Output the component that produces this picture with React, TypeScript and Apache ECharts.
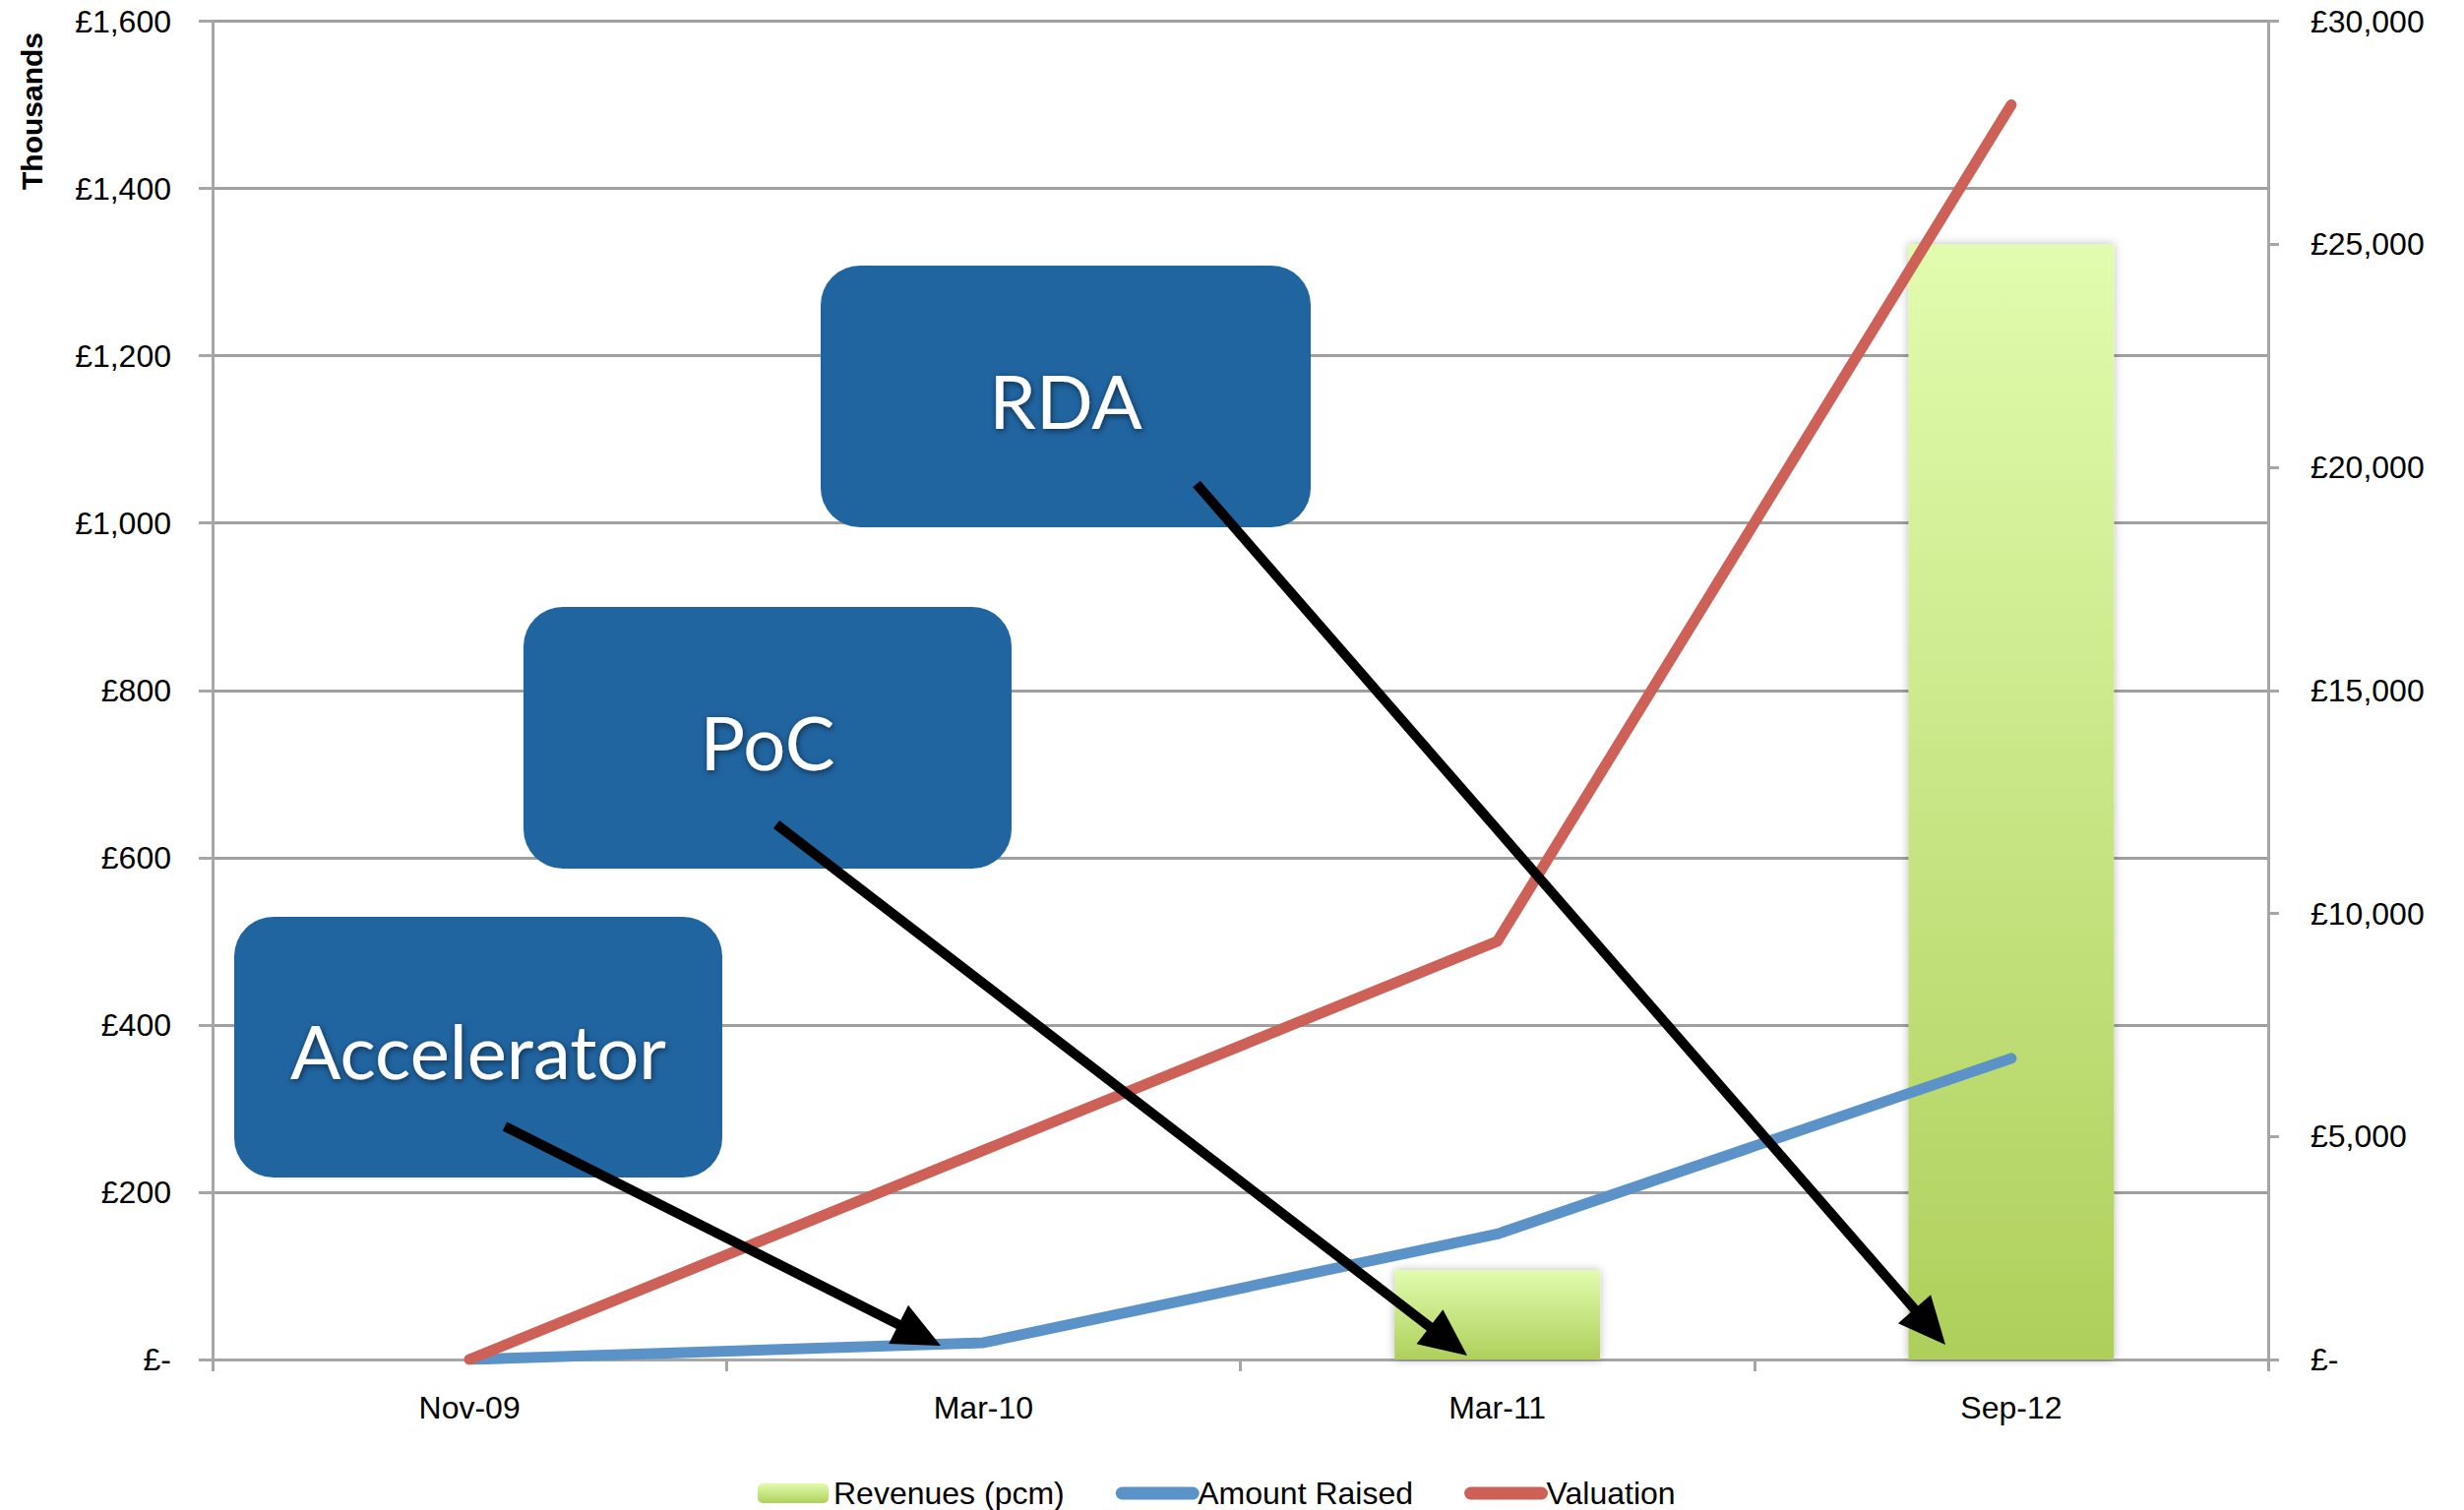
import React, { useEffect, useRef } from "react";
import * as echarts from "echarts";

// ---- data ----
const categories = ["Nov-09", "Mar-10", "Mar-11", "Sep-12"];
const revenuesPcm = [0, 0, 2000, 25000]; // right axis (£)
const amountRaised = [0, 20, 150, 360]; // left axis (£ thousands)
const valuation = [0, 250, 500, 1500]; // left axis (£ thousands)
const leftAxisRange = [0, 1600, 200];
const rightAxisRange = [0, 30000, 5000];
const seriesNames = ["Revenues (pcm)", "Amount Raised", "Valuation"];
const stageLabels = ["RDA", "PoC", "Accelerator"];

// ---- annotation layout (pixels) ----
const stageBoxes = [
  { x: 834, y: 270, w: 498, h: 266 },
  { x: 532, y: 617, w: 496, h: 266 },
  { x: 238, y: 932, w: 496, h: 265 },
];
const stageArrows = [
  { from: [1216, 492], to: [1977, 1367] },
  { from: [789, 838], to: [1491, 1378] },
  { from: [513, 1145], to: [956, 1368] },
];

const FONT = '"Liberation Sans", Arial, sans-serif';
const GRID_COLOR = "#a0a0a0";
const AXIS_COLOR = "#a6a6a6";
const BLUE = "#5b93c9";
const RED = "#cd6158";

function poundFmt(v: number) {
  if (v === 0) return "£-";
  return "£" + v.toLocaleString("en-GB");
}

function arrowElements(from: number[], to: number[]) {
  const dx = to[0] - from[0];
  const dy = to[1] - from[1];
  const len = Math.sqrt(dx * dx + dy * dy);
  const ux = dx / len;
  const uy = dy / len;
  const headLen = 48;
  const halfW = 22;
  const bx = to[0] - ux * headLen;
  const by = to[1] - uy * headLen;
  const px = -uy;
  const py = ux;
  return [
    {
      type: "line",
      z: 100,
      shape: { x1: from[0], y1: from[1], x2: bx + ux * 4, y2: by + uy * 4 },
      style: { stroke: "#000", lineWidth: 10 },
    },
    {
      type: "polygon",
      z: 101,
      shape: {
        points: [
          [to[0], to[1]],
          [bx + px * halfW, by + py * halfW],
          [bx - px * halfW, by - py * halfW],
        ],
      },
      style: { fill: "#000" },
    },
  ];
}

export default function App() {
  const ref = useRef<HTMLDivElement>(null);

  useEffect(() => {
    document.body.style.margin = "0";
    if (!ref.current) return;
    const chart = echarts.init(ref.current, undefined, { renderer: "svg" });

    const graphics: any[] = [];
    stageBoxes.forEach((b, i) => {
      graphics.push({
        type: "rect",
        z: 90,
        shape: { x: b.x, y: b.y, width: b.w, height: b.h, r: 40 },
        style: { fill: "#2064a0" },
      });
      graphics.push({
        type: "text",
        z: 91,
        x: b.x + b.w / 2,
        y: b.y + b.h / 2 + 3,
        style: {
          text: stageLabels[i],
          fill: "#ffffff",
          font: '76px Lato, "Open Sans", sans-serif',
          align: "center",
          verticalAlign: "middle",
          textShadowColor: "rgba(0,0,0,0.55)",
          textShadowBlur: 6,
          textShadowOffsetX: 1,
          textShadowOffsetY: 2,
        },
      });
    });
    stageArrows.forEach((a) => graphics.push(...arrowElements(a.from, a.to)));
    graphics.push({
      type: "text",
      x: 32,
      y: 113,
      rotation: Math.PI / 2,
      style: {
        text: "Thousands",
        fill: "#000",
        font: `bold 30px ${FONT}`,
        align: "center",
        verticalAlign: "middle",
      },
    });

    const lineLegendItem = (name: string, color: string) => ({
      name,
      itemStyle: { opacity: 0 },
      lineStyle: { width: 13, color, cap: "round" },
    });

    chart.setOption({
      animation: false,
      backgroundColor: "#ffffff",
      grid: { left: 216, right: 199, top: 21.5, bottom: 153, containLabel: false },
      legend: {
        left: 765,
        top: 1497,
        itemWidth: 72,
        itemHeight: 20,
        itemGap: 52,
        textStyle: { fontSize: 32, color: "#000", fontFamily: FONT },
        data: [
          { name: seriesNames[0] },
          lineLegendItem(seriesNames[1], BLUE),
          lineLegendItem(seriesNames[2], RED),
        ],
      },
      xAxis: {
        type: "category",
        data: categories,
        boundaryGap: true,
        axisLine: { show: true, lineStyle: { color: AXIS_COLOR, width: 3 } },
        axisTick: { show: true, length: 12, alignWithLabel: false, lineStyle: { color: AXIS_COLOR, width: 3 } },
        axisLabel: { color: "#000", fontSize: 32, fontFamily: FONT, margin: 33 },
        splitLine: { show: false },
      },
      yAxis: [
        {
          type: "value",
          min: leftAxisRange[0],
          max: leftAxisRange[1],
          interval: leftAxisRange[2],
          position: "left",
          axisLine: { show: true, lineStyle: { color: AXIS_COLOR, width: 3 } },
          axisTick: { show: true, length: 14, lineStyle: { color: AXIS_COLOR, width: 3 } },
          axisLabel: { color: "#000", fontSize: 32, fontFamily: FONT, margin: 42, formatter: poundFmt },
          splitLine: { show: true, lineStyle: { color: GRID_COLOR, width: 3 } },
        },
        {
          type: "value",
          min: rightAxisRange[0],
          max: rightAxisRange[1],
          interval: rightAxisRange[2],
          position: "right",
          axisLine: { show: true, lineStyle: { color: AXIS_COLOR, width: 3 } },
          axisTick: { show: true, length: 11, lineStyle: { color: AXIS_COLOR, width: 3 } },
          axisLabel: { color: "#000", fontSize: 32, fontFamily: FONT, margin: 43, formatter: poundFmt },
          splitLine: { show: false },
        },
      ],
      series: [
        {
          name: seriesNames[0],
          type: "bar",
          yAxisIndex: 1,
          data: revenuesPcm,
          barWidth: "40%",
          z: 1,
          itemStyle: {
            color: new echarts.graphic.LinearGradient(0, 0, 0, 1, [
              { offset: 0, color: "#e1fcae" },
              { offset: 1, color: "#afcf5b" },
            ]),
            shadowBlur: 10,
            shadowColor: "rgba(0,0,0,0.28)",
          },
        },
        {
          name: seriesNames[1],
          type: "line",
          yAxisIndex: 0,
          data: amountRaised,
          symbol: "none",
          z: 3,
          itemStyle: { color: BLUE },
          lineStyle: { color: BLUE, width: 11, cap: "round", join: "round" },
        },
        {
          name: seriesNames[2],
          type: "line",
          yAxisIndex: 0,
          data: valuation,
          symbol: "none",
          z: 3,
          itemStyle: { color: RED },
          lineStyle: { color: RED, width: 11, cap: "round", join: "round" },
        },
      ],
      graphic: graphics,
    });

    return () => chart.dispose();
  }, []);

  return <div ref={ref} style={{ width: 2504, height: 1535 }} />;
}
